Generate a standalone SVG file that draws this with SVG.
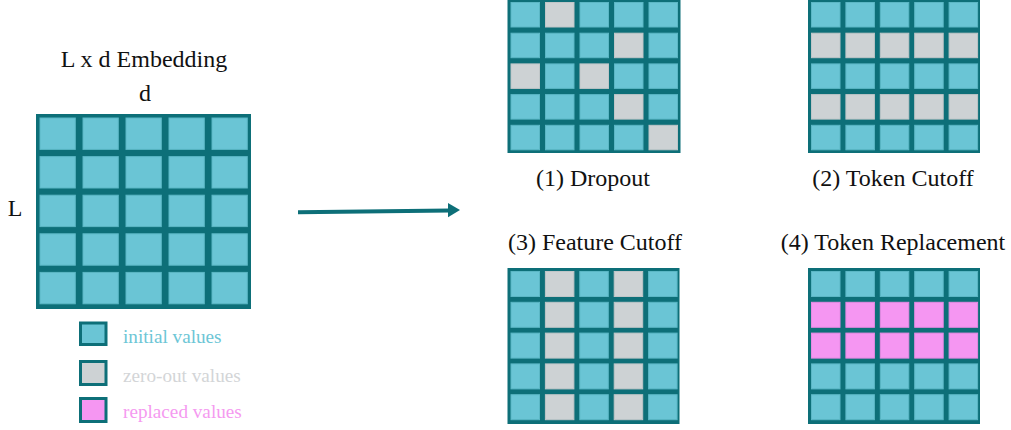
<svg xmlns="http://www.w3.org/2000/svg" width="1011" height="430" viewBox="0 0 1011 430">
<style>
.lbl{font-family:'Liberation Serif',serif;font-size:24px;fill:#111}
.frame{fill:#0D6F78}
.c{fill:#6AC5D5;stroke:#5BB7C5;stroke-width:1}
.g{fill:#CDD2D4;stroke:#BFC6C8;stroke-width:1}
.p{fill:#F596F2;stroke:#E78AE4;stroke-width:1}
.leg{font-family:'Liberation Serif',serif;font-size:19.2px}
</style>
<rect width="1011" height="430" fill="#fff"/>

<g id="embedding">
<text class="lbl" x="144" y="66.5" text-anchor="middle">L x d Embedding</text>
<text class="lbl" x="145" y="101" text-anchor="middle">d</text>
<text class="lbl" x="15" y="215.5" text-anchor="middle">L</text>
<rect class="frame" x="36" y="114" width="215" height="195"/>
<rect class="c" x="40" y="118" width="35.3" height="31.4"/><rect class="c" x="83" y="118" width="35.3" height="31.4"/><rect class="c" x="126" y="118" width="35.3" height="31.4"/><rect class="c" x="169" y="118" width="35.3" height="31.4"/><rect class="c" x="212" y="118" width="35.3" height="31.4"/>
<rect class="c" x="40" y="156.6" width="35.3" height="31.4"/><rect class="c" x="83" y="156.6" width="35.3" height="31.4"/><rect class="c" x="126" y="156.6" width="35.3" height="31.4"/><rect class="c" x="169" y="156.6" width="35.3" height="31.4"/><rect class="c" x="212" y="156.6" width="35.3" height="31.4"/>
<rect class="c" x="40" y="195.2" width="35.3" height="31.4"/><rect class="c" x="83" y="195.2" width="35.3" height="31.4"/><rect class="c" x="126" y="195.2" width="35.3" height="31.4"/><rect class="c" x="169" y="195.2" width="35.3" height="31.4"/><rect class="c" x="212" y="195.2" width="35.3" height="31.4"/>
<rect class="c" x="40" y="233.8" width="35.3" height="31.4"/><rect class="c" x="83" y="233.8" width="35.3" height="31.4"/><rect class="c" x="126" y="233.8" width="35.3" height="31.4"/><rect class="c" x="169" y="233.8" width="35.3" height="31.4"/><rect class="c" x="212" y="233.8" width="35.3" height="31.4"/>
<rect class="c" x="40" y="272.4" width="35.3" height="31.4"/><rect class="c" x="83" y="272.4" width="35.3" height="31.4"/><rect class="c" x="126" y="272.4" width="35.3" height="31.4"/><rect class="c" x="169" y="272.4" width="35.3" height="31.4"/><rect class="c" x="212" y="272.4" width="35.3" height="31.4"/>
</g>

<g id="legend">
<rect x="80.5" y="323" width="25.5" height="21.5" fill="#6AC5D5" stroke="#0D6F78" stroke-width="3"/>
<text class="leg" x="123" y="343" fill="#6DC6D6">initial values</text>
<rect x="80.5" y="361.5" width="25.5" height="23" fill="#CDD2D4" stroke="#0D6F78" stroke-width="3"/>
<text class="leg" x="123" y="382" fill="#D3D5D7">zero-out values</text>
<rect x="80.5" y="398.5" width="25.5" height="23" fill="#F596F2" stroke="#0D6F78" stroke-width="3"/>
<text class="leg" x="123" y="418" fill="#F59AF0">replaced values</text>
</g>

<g id="connectors">
<line x1="298" y1="212.3" x2="450" y2="210.4" stroke="#0D6F78" stroke-width="4"/>
<polygon points="460,210 448,203 448,217.3" fill="#0D6F78"/>
</g>

<g id="dropout">
<rect class="frame" x="507.5" y="-1" width="173" height="154"/>
<rect class="c" x="511" y="2.5" width="28.5" height="24.5"/><rect class="g" x="545.5" y="2.5" width="28.5" height="24.5"/><rect class="c" x="580" y="2.5" width="28.5" height="24.5"/><rect class="c" x="614.5" y="2.5" width="28.5" height="24.5"/><rect class="c" x="649" y="2.5" width="28.5" height="24.5"/>
<rect class="c" x="511" y="33.2" width="28.5" height="24.5"/><rect class="c" x="545.5" y="33.2" width="28.5" height="24.5"/><rect class="c" x="580" y="33.2" width="28.5" height="24.5"/><rect class="g" x="614.5" y="33.2" width="28.5" height="24.5"/><rect class="c" x="649" y="33.2" width="28.5" height="24.5"/>
<rect class="g" x="511" y="63.9" width="28.5" height="24.5"/><rect class="c" x="545.5" y="63.9" width="28.5" height="24.5"/><rect class="g" x="580" y="63.9" width="28.5" height="24.5"/><rect class="c" x="614.5" y="63.9" width="28.5" height="24.5"/><rect class="c" x="649" y="63.9" width="28.5" height="24.5"/>
<rect class="c" x="511" y="94.6" width="28.5" height="24.5"/><rect class="c" x="545.5" y="94.6" width="28.5" height="24.5"/><rect class="c" x="580" y="94.6" width="28.5" height="24.5"/><rect class="g" x="614.5" y="94.6" width="28.5" height="24.5"/><rect class="c" x="649" y="94.6" width="28.5" height="24.5"/>
<rect class="c" x="511" y="125.3" width="28.5" height="24.5"/><rect class="c" x="545.5" y="125.3" width="28.5" height="24.5"/><rect class="c" x="580" y="125.3" width="28.5" height="24.5"/><rect class="c" x="614.5" y="125.3" width="28.5" height="24.5"/><rect class="g" x="649" y="125.3" width="28.5" height="24.5"/>
<text class="lbl" x="593" y="186" text-anchor="middle">(1) Dropout</text>
</g>

<g id="token-cutoff">
<rect class="frame" x="808" y="-1" width="172" height="154"/>
<rect class="c" x="811.5" y="2.5" width="28.5" height="24.5"/><rect class="c" x="845.9" y="2.5" width="28.5" height="24.5"/><rect class="c" x="880.3" y="2.5" width="28.5" height="24.5"/><rect class="c" x="914.7" y="2.5" width="28.5" height="24.5"/><rect class="c" x="949.1" y="2.5" width="28.5" height="24.5"/>
<rect class="g" x="811.5" y="33.2" width="28.5" height="24.5"/><rect class="g" x="845.9" y="33.2" width="28.5" height="24.5"/><rect class="g" x="880.3" y="33.2" width="28.5" height="24.5"/><rect class="g" x="914.7" y="33.2" width="28.5" height="24.5"/><rect class="g" x="949.1" y="33.2" width="28.5" height="24.5"/>
<rect class="c" x="811.5" y="63.9" width="28.5" height="24.5"/><rect class="c" x="845.9" y="63.9" width="28.5" height="24.5"/><rect class="c" x="880.3" y="63.9" width="28.5" height="24.5"/><rect class="c" x="914.7" y="63.9" width="28.5" height="24.5"/><rect class="c" x="949.1" y="63.9" width="28.5" height="24.5"/>
<rect class="g" x="811.5" y="94.6" width="28.5" height="24.5"/><rect class="g" x="845.9" y="94.6" width="28.5" height="24.5"/><rect class="g" x="880.3" y="94.6" width="28.5" height="24.5"/><rect class="g" x="914.7" y="94.6" width="28.5" height="24.5"/><rect class="g" x="949.1" y="94.6" width="28.5" height="24.5"/>
<rect class="c" x="811.5" y="125.3" width="28.5" height="24.5"/><rect class="c" x="845.9" y="125.3" width="28.5" height="24.5"/><rect class="c" x="880.3" y="125.3" width="28.5" height="24.5"/><rect class="c" x="914.7" y="125.3" width="28.5" height="24.5"/><rect class="c" x="949.1" y="125.3" width="28.5" height="24.5"/>
<text class="lbl" x="893" y="186" text-anchor="middle">(2) Token Cutoff</text>
</g>

<g id="feature-cutoff">
<text class="lbl" x="595" y="250" text-anchor="middle">(3) Feature Cutoff</text>
<rect class="frame" x="507.5" y="268" width="172" height="156"/>
<rect class="c" x="511" y="271.5" width="28.5" height="25"/><rect class="g" x="545.4" y="271.5" width="28.5" height="25"/><rect class="c" x="579.8" y="271.5" width="28.5" height="25"/><rect class="g" x="614.2" y="271.5" width="28.5" height="25"/><rect class="c" x="648.6" y="271.5" width="28.5" height="25"/>
<rect class="c" x="511" y="302.3" width="28.5" height="25"/><rect class="g" x="545.4" y="302.3" width="28.5" height="25"/><rect class="c" x="579.8" y="302.3" width="28.5" height="25"/><rect class="g" x="614.2" y="302.3" width="28.5" height="25"/><rect class="c" x="648.6" y="302.3" width="28.5" height="25"/>
<rect class="c" x="511" y="333.1" width="28.5" height="25"/><rect class="g" x="545.4" y="333.1" width="28.5" height="25"/><rect class="c" x="579.8" y="333.1" width="28.5" height="25"/><rect class="g" x="614.2" y="333.1" width="28.5" height="25"/><rect class="c" x="648.6" y="333.1" width="28.5" height="25"/>
<rect class="c" x="511" y="363.9" width="28.5" height="25"/><rect class="g" x="545.4" y="363.9" width="28.5" height="25"/><rect class="c" x="579.8" y="363.9" width="28.5" height="25"/><rect class="g" x="614.2" y="363.9" width="28.5" height="25"/><rect class="c" x="648.6" y="363.9" width="28.5" height="25"/>
<rect class="c" x="511" y="394.7" width="28.5" height="25"/><rect class="g" x="545.4" y="394.7" width="28.5" height="25"/><rect class="c" x="579.8" y="394.7" width="28.5" height="25"/><rect class="g" x="614.2" y="394.7" width="28.5" height="25"/><rect class="c" x="648.6" y="394.7" width="28.5" height="25"/>
</g>

<g id="token-replacement">
<text class="lbl" x="893" y="250" text-anchor="middle">(4) Token Replacement</text>
<rect class="frame" x="808" y="268" width="172" height="156"/>
<rect class="c" x="811.5" y="271.5" width="28.5" height="25"/><rect class="c" x="845.9" y="271.5" width="28.5" height="25"/><rect class="c" x="880.3" y="271.5" width="28.5" height="25"/><rect class="c" x="914.7" y="271.5" width="28.5" height="25"/><rect class="c" x="949.1" y="271.5" width="28.5" height="25"/>
<rect class="p" x="811.5" y="302.3" width="28.5" height="25"/><rect class="p" x="845.9" y="302.3" width="28.5" height="25"/><rect class="p" x="880.3" y="302.3" width="28.5" height="25"/><rect class="p" x="914.7" y="302.3" width="28.5" height="25"/><rect class="p" x="949.1" y="302.3" width="28.5" height="25"/>
<rect class="p" x="811.5" y="333.1" width="28.5" height="25"/><rect class="p" x="845.9" y="333.1" width="28.5" height="25"/><rect class="p" x="880.3" y="333.1" width="28.5" height="25"/><rect class="p" x="914.7" y="333.1" width="28.5" height="25"/><rect class="p" x="949.1" y="333.1" width="28.5" height="25"/>
<rect class="c" x="811.5" y="363.9" width="28.5" height="25"/><rect class="c" x="845.9" y="363.9" width="28.5" height="25"/><rect class="c" x="880.3" y="363.9" width="28.5" height="25"/><rect class="c" x="914.7" y="363.9" width="28.5" height="25"/><rect class="c" x="949.1" y="363.9" width="28.5" height="25"/>
<rect class="c" x="811.5" y="394.7" width="28.5" height="25"/><rect class="c" x="845.9" y="394.7" width="28.5" height="25"/><rect class="c" x="880.3" y="394.7" width="28.5" height="25"/><rect class="c" x="914.7" y="394.7" width="28.5" height="25"/><rect class="c" x="949.1" y="394.7" width="28.5" height="25"/>
</g>
</svg>
